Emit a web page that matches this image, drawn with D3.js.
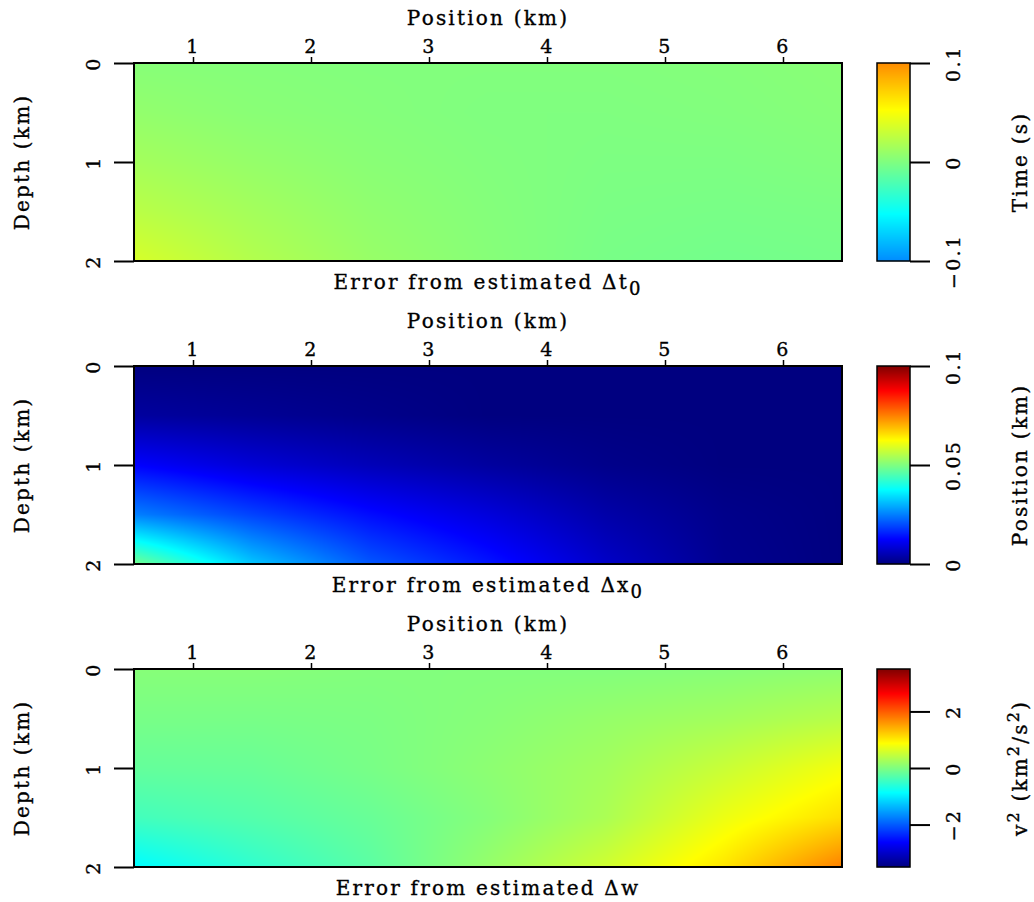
<!DOCTYPE html>
<html>
<head>
<meta charset="utf-8">
<script src="https://cdn.jsdelivr.net/npm/d3@7"></script>
<style>
  body { margin: 0; background: #fff; }
  svg text { font-family: "DejaVu Serif", serif; fill: #000; stroke: #000; stroke-width: 0.35px; letter-spacing: 2.2px; }
</style>
</head>
<body>
<div id="chart"></div>
<script>
// Grid nodes (km) the field values were read at
const gridX = [0.5, 1.5, 2.5, 3.5, 4.5, 5.5, 6.5];
const gridZ = [0, 0.5, 1, 1.5, 2];
const xTicks = [1, 2, 3, 4, 5, 6];
const depthTicks = [0, 1, 2];

// Error from estimated dt0 (s), rows = depth
const dtError = [
  [0.003, 0.002, 0.001, 0.001, 0.001, 0.002, 0.004],
  [0.008, 0.004, 0.002, 0.000, 0.000, 0.001, 0.003],
  [0.015, 0.009, 0.004, 0.001, -0.001, -0.001, 0.001],
  [0.024, 0.015, 0.007, 0.002, -0.002, -0.003, -0.002],
  [0.036, 0.021, 0.010, 0.003, -0.003, -0.005, -0.004]
];
// Error from estimated dx0 (km)
const dxError = [
  [0.000, 0.000, 0.000, 0.000, 0.000, 0.000, 0.000],
  [0.003, 0.002, 0.001, 0.000, 0.000, 0.000, 0.000],
  [0.0125, 0.0085, 0.0055, 0.003, 0.001, 0.000, 0.000],
  [0.025, 0.019, 0.0135, 0.009, 0.004, 0.001, 0.000],
  [0.049, 0.032, 0.021, 0.0145, 0.007, 0.0015, 0.000]
];
// Error from estimated dw (km^2/s^2)
const dwError = [
  [0.05, 0.05, 0.02, 0.02, 0.02, 0.05, 0.10],
  [-0.05, -0.05, -0.02, 0.05, 0.15, 0.24, 0.38],
  [-0.19, -0.16, -0.05, 0.09, 0.24, 0.50, 0.80],
  [-0.42, -0.30, -0.16, 0.04, 0.30, 0.75, 1.10],
  [-0.90, -0.55, -0.25, 0.15, 0.55, 1.05, 1.75]
];

const cbTicks1 = [-0.1, 0, 0.1];
const cbTicks2 = [0, 0.05, 0.1];
const cbTicks3 = [-2, 0, 2];

// jet colormap
const jetStops = [0, 0.125, 0.375, 0.625, 0.875, 1];
const jetColors = ["#000080", "#0000ff", "#00ffff", "#ffff00", "#ff0000", "#800000"];
const jet = d3.scaleLinear().domain(jetStops).range(jetColors).clamp(true);

const minus = s => s.replace("-", "\u2212");

const panels = [
  { field: dtError, cmap: [-0.21, 0.21], bar: [-0.1, 0.1], ticks: cbTicks1,
    fmt: d => d === 0 ? "0" : minus(d3.format(".1f")(d)),
    unit: "Time (s)", sym: "t", sub: "0" },
  { field: dxError, cmap: [0, 0.1], bar: [0, 0.1], ticks: cbTicks2,
    fmt: d => d === 0 ? "0" : String(d),
    unit: "Position (km)", sym: "x", sub: "0" },
  { field: dwError, cmap: [-3.5, 3.5], bar: [-3.5, 3.5], ticks: cbTicks3,
    fmt: d => minus(String(d)),
    unit: null, sym: "w", sub: null }
];

const W = 1034, H = 902;
const plotLeft = 134, plotW = 708, plotH = 198;
const panelTops = [63, 366, 669];
const cbLeft = 877, cbW = 33;

const svg = d3.select("#chart").append("svg")
  .attr("width", W).attr("height", H);

const xScale = d3.scaleLinear().domain([0.5, 6.5]).range([0, plotW]);
const yScale = d3.scaleLinear().domain([0, 2]).range([0, plotH]);

function bilinear(field, x, z) {
  const fx = Math.max(0, Math.min(gridX.length - 1.0001, (x - gridX[0]) / (gridX[1] - gridX[0])));
  const fz = Math.max(0, Math.min(gridZ.length - 1.0001, (z - gridZ[0]) / (gridZ[1] - gridZ[0])));
  const i = Math.floor(fx), j = Math.floor(fz);
  const u = fx - i, v = fz - j;
  return field[j][i] * (1 - u) * (1 - v) + field[j][i + 1] * u * (1 - v)
    + field[j + 1][i] * (1 - u) * v + field[j + 1][i + 1] * u * v;
}

function styleTickText(sel, shift) {
  sel.attr("x", null).attr("y", null).attr("dy", "0.35em")
    .attr("transform", `translate(${shift},0) rotate(-90)`)
    .attr("text-anchor", "middle")
    .attr("font-size", 19).style("font-family", "DejaVu Serif");
}

panels.forEach((p, k) => {
  const top = panelTops[k];
  const g = svg.append("g").attr("transform", `translate(${plotLeft},${top})`);
  const valueToT = d3.scaleLinear().domain(p.cmap).range([0, 1]);

  // field image
  const canvas = document.createElement("canvas");
  canvas.width = plotW; canvas.height = plotH;
  const ctx = canvas.getContext("2d");
  const img = ctx.createImageData(plotW, plotH);
  for (let py = 0; py < plotH; py++) {
    const z = yScale.invert(py + 0.5);
    for (let px = 0; px < plotW; px++) {
      const x = xScale.invert(px + 0.5);
      const c = d3.rgb(jet(valueToT(bilinear(p.field, x, z))));
      const o = (py * plotW + px) * 4;
      img.data[o] = c.r; img.data[o + 1] = c.g; img.data[o + 2] = c.b; img.data[o + 3] = 255;
    }
  }
  ctx.putImageData(img, 0, 0);
  g.append("image")
    .attr("width", plotW).attr("height", plotH)
    .attr("preserveAspectRatio", "none")
    .attr("href", canvas.toDataURL());

  g.append("rect")
    .attr("width", plotW).attr("height", plotH)
    .attr("fill", "none").attr("stroke", "#000").attr("stroke-width", 2);

  // top axis
  const xa = g.append("g").call(d3.axisTop(xScale).tickValues(xTicks).tickSize(6).tickPadding(4).tickFormat(d3.format("d")));
  xa.select(".domain").remove();
  xa.selectAll("line").attr("stroke-width", 1.5);
  xa.selectAll("text").attr("font-size", 19).style("font-family", "DejaVu Serif");

  g.append("text")
    .attr("x", plotW / 2).attr("y", -38)
    .attr("text-anchor", "middle").attr("font-size", 20)
    .text("Position (km)");

  // left axis
  const ya = g.append("g").call(d3.axisLeft(yScale).tickValues(depthTicks).tickSize(20).tickFormat(d3.format("d")));
  ya.select(".domain").remove();
  ya.selectAll("line").attr("stroke-width", 2);
  styleTickText(ya.selectAll("text"), -41);

  g.append("text")
    .attr("transform", `translate(${22 - plotLeft},${plotH / 2}) rotate(-90)`)
    .attr("dy", "0.35em")
    .attr("text-anchor", "middle").attr("font-size", 20)
    .text("Depth (km)");

  // bottom title
  const t = g.append("text")
    .attr("x", plotW / 2).attr("y", plotH + 28)
    .attr("text-anchor", "middle").attr("font-size", 20);
  t.append("tspan").text("Error from estimated \u0394" + p.sym);
  if (p.sub) t.append("tspan").attr("dy", 6).attr("font-size", 18).text(p.sub);

  // colorbar
  const cb = svg.append("g").attr("transform", `translate(${cbLeft},${top})`);
  const cbScale = d3.scaleLinear().domain(p.bar).range([plotH, 0]);
  const steps = d3.range(plotH);
  cb.selectAll("rect.cell").data(steps).join("rect")
    .attr("class", "cell")
    .attr("x", 0).attr("y", d => d)
    .attr("width", cbW).attr("height", 1.2)
    .attr("fill", d => jet(valueToT(cbScale.invert(d + 0.5))));
  cb.append("rect")
    .attr("width", cbW).attr("height", plotH)
    .attr("fill", "none").attr("stroke", "#000").attr("stroke-width", 1.5);

  const ca = cb.append("g").attr("transform", `translate(${cbW},0)`)
    .call(d3.axisRight(cbScale).tickValues(p.ticks).tickSize(20).tickFormat(p.fmt));
  ca.select(".domain").remove();
  ca.selectAll("line").attr("stroke-width", 2);
  styleTickText(ca.selectAll("text"), 43);

  const ut = cb.append("text")
    .attr("transform", `translate(${1020 - cbLeft},${plotH / 2}) rotate(-90)`)
    .attr("dy", "0.35em")
    .attr("text-anchor", "middle").attr("font-size", 20);
  if (p.unit) {
    ut.text(p.unit);
  } else {
    ut.append("tspan").text("v");
    ut.append("tspan").attr("dy", -8).attr("font-size", 16).text("2");
    ut.append("tspan").attr("dy", 8).text(" (km");
    ut.append("tspan").attr("dy", -8).attr("font-size", 16).text("2");
    ut.append("tspan").attr("dy", 8).text("/s");
    ut.append("tspan").attr("dy", -8).attr("font-size", 16).text("2");
    ut.append("tspan").attr("dy", 8).text(")");
  }
});
</script>
</body>
</html>
